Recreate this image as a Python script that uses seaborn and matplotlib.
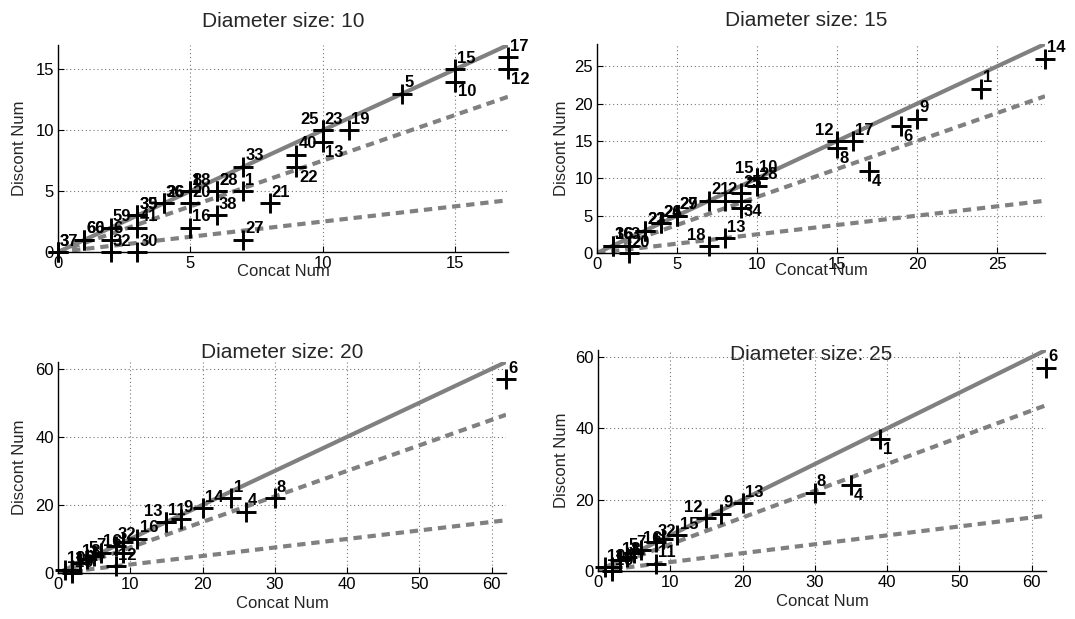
import matplotlib
matplotlib.use("Agg")
import matplotlib.pyplot as plt
import seaborn as sns
import pandas as pd

# ---------------- data ----------------
slopes = [1.0, 0.75, 0.25]
line_styles = ["-", (0, (2, 1.4)), (0, (2, 1.4))]

titles = ["Diameter size: 10", "Diameter size: 15", "Diameter size: 20", "Diameter size: 25"]
axis_max = [17, 28, 62, 62]
xticks_list = [[0, 5, 10, 15], [0, 5, 10, 15, 20, 25], [0, 10, 20, 30, 40, 50, 60], [0, 10, 20, 30, 40, 50, 60]]
yticks_list = [[0, 5, 10, 15], [0, 5, 10, 15, 20, 25], [0, 20, 40, 60], [0, 20, 40, 60]]

d10_x = [0, 0, 1, 1, 2, 2, 2, 3, 3, 3, 3, 4, 4, 5, 5, 5, 5, 6, 6, 6, 7, 7, 7, 8, 9, 9, 10, 10, 10, 11, 13, 15, 15, 17, 17]
d10_y = [0, 0, 1, 1, 2, 1, 0, 3, 3, 2, 0, 4, 4, 5, 5, 4, 2, 5, 5, 3, 7, 5, 1, 4, 8, 7, 10, 10, 9, 10, 13, 15, 14, 16, 15]
d10_lab = ["37", "3", "60", "66", "59", "6", "32", "35", "39", "41", "30", "36", "26", "8", "18", "20", "16",
           "2", "28", "38", "33", "1", "27", "21", "40", "22", "23", "25", "13", "19", "5", "15", "10", "17", "12"]
d10_pos = ["ur"] * 25 + ["lr", "ur", "ul", "lr", "ur", "ur", "ur", "lr", "ur", "lr"]

d15_x = [1, 1, 2, 2, 3, 3, 4, 4, 5, 5, 7, 7, 8, 8, 9, 9, 9, 10, 10, 10, 15, 15, 16, 17, 19, 20, 24, 28]
d15_y = [1, 1, 1, 0, 3, 3, 4, 4, 5, 5, 7, 1, 7, 2, 8, 7, 6, 10, 10, 9, 15, 14, 15, 11, 17, 18, 22, 26]
d15_lab = ["36", "16", "3", "20", "22", "23", "24", "26", "27", "29", "21", "18", "2", "13", "25", "34", "",
           "10", "15", "28", "12", "8", "17", "4", "6", "9", "1", "14"]
d15_pos = ["ur", "ur", "ur", "ur", "ur", "ur", "ur", "ur", "ur", "ur", "ur", "ul", "ur", "ur", "ur", "lr", "ur",
           "ur", "ul", "ur", "ul", "lr", "ur", "lr", "lr", "ur", "ur", "ur"]

d20_x = [1, 2, 2, 3, 4, 5, 6, 8, 8, 9, 9, 11, 15, 15, 17, 20, 24, 26, 30, 62]
d20_y = [1, 0, 1, 3, 4, 5, 6, 8, 2, 9, 6, 10, 15, 15, 16, 19, 22, 18, 22, 57]
d20_lab = ["10", "19", "15", "18", "5", "7", "16", "32", "12", "", "", "16", "13", "11", "9", "14", "1", "4", "8", "6"]
d20_pos = ["ur"] * 12 + ["ul", "ur", "ur", "ur", "ur", "ur", "ur", "ur"]

d25_x = [1, 2, 2, 3, 4, 5, 6, 8, 8, 9, 11, 15, 17, 20, 30, 35, 39, 62]
d25_y = [1, 0, 1, 3, 4, 5, 6, 8, 2, 9, 10, 15, 16, 19, 22, 24, 37, 57]
d25_lab = ["10", "19", "14", "18", "5", "7", "16", "32", "11", "", "15", "12", "9", "13", "8", "4", "1", "6"]
d25_pos = ["ur"] * 11 + ["ul", "ur", "ur", "ur", "lr", "lr", "ur"]

panels = [
    (d10_x, d10_y, d10_lab, d10_pos),
    (d15_x, d15_y, d15_lab, d15_pos),
    (d20_x, d20_y, d20_lab, d20_pos),
    (d25_x, d25_y, d25_lab, d25_pos),
]

# ---------------- style ----------------
sns.set_theme(style="white")
plt.rcParams["font.family"] = ["Liberation Sans", "DejaVu Sans"]

fig = plt.figure(figsize=(10.75, 6.19), dpi=100)

W, H = 1075.0, 619.0
# axes rectangles in pixel coords: left, right, top, bottom
rects = [
    (58, 508, 45, 252),
    (597, 1045, 44, 253),
    (58, 506, 362, 573),
    (598, 1046, 350, 571),
]
title_pads = [13.0, 13.0, 3.0, -7.0]
title_x = [0.5, 0.4665, 0.5, 0.475]
xlabel_center_px = [271, 271, 604, 601]
ylabel_center_px = [20, 561, 20, 561]

offsets = {"ur": ((1.5, 2.5), "left", "bottom"),
           "lr": ((2, -2), "left", "top"),
           "ul": ((-2.5, 2), "right", "bottom")}

for i, (xs, ys, labs, poss) in enumerate(panels):
    l, r, t, b = rects[i]
    wpx, hpx = r - l, b - t
    ax = fig.add_axes([l / W, 1 - b / H, wpx / W, hpx / H])
    m = axis_max[i]
    for s, ls in zip(slopes, line_styles):
        line_df = pd.DataFrame({"x": [0, m], "y": [0, s * m]})
        sns.lineplot(data=line_df, x="x", y="y", ax=ax, color="#808080", linewidth=3.0,
                     linestyle=ls, zorder=2)
    pts = pd.DataFrame({"x": xs, "y": ys})
    sns.scatterplot(data=pts, x="x", y="y", ax=ax, marker="+", s=200, color="black",
                    linewidth=2.1, zorder=4, clip_on=False)
    for x, y, lab, p in zip(xs, ys, labs, poss):
        if not lab:
            continue
        off, ha, va = offsets[p]
        ax.annotate(lab, (x, y), xytext=off, textcoords="offset points", ha=ha, va=va,
                    fontsize=12, fontweight="bold", color="black", zorder=5,
                    annotation_clip=False)
    ax.set_xlim(0, m)
    ax.set_ylim(0, m)
    ax.set_xticks(xticks_list[i])
    ax.set_yticks(yticks_list[i])
    ax.grid(True, linestyle=(0, (1, 2.5)), color="#777777", linewidth=0.8)
    for sp in ["top", "right"]:
        ax.spines[sp].set_visible(False)
    for sp in ["left", "bottom"]:
        ax.spines[sp].set_color("black")
        ax.spines[sp].set_linewidth(1.0)
    ax.tick_params(direction="in", length=4, width=0.8, labelsize=12, pad=3,
                   bottom=True, left=True, colors="black")
    ax.set_xlabel("Concat Num", fontsize=12)
    ax.xaxis.label.set_va("center")
    ax.xaxis.set_label_coords(0.5, -(xlabel_center_px[i] - b) / hpx)
    ax.set_ylabel("Discont Num", fontsize=12)
    ax.yaxis.label.set_va("center")
    ax.yaxis.set_label_coords(-(l - ylabel_center_px[i]) / wpx, 0.5)
    ax.set_title(titles[i], fontsize=15, pad=title_pads[i])
    ax.title.set_x(title_x[i])

fig.savefig("out.png", dpi=100)
